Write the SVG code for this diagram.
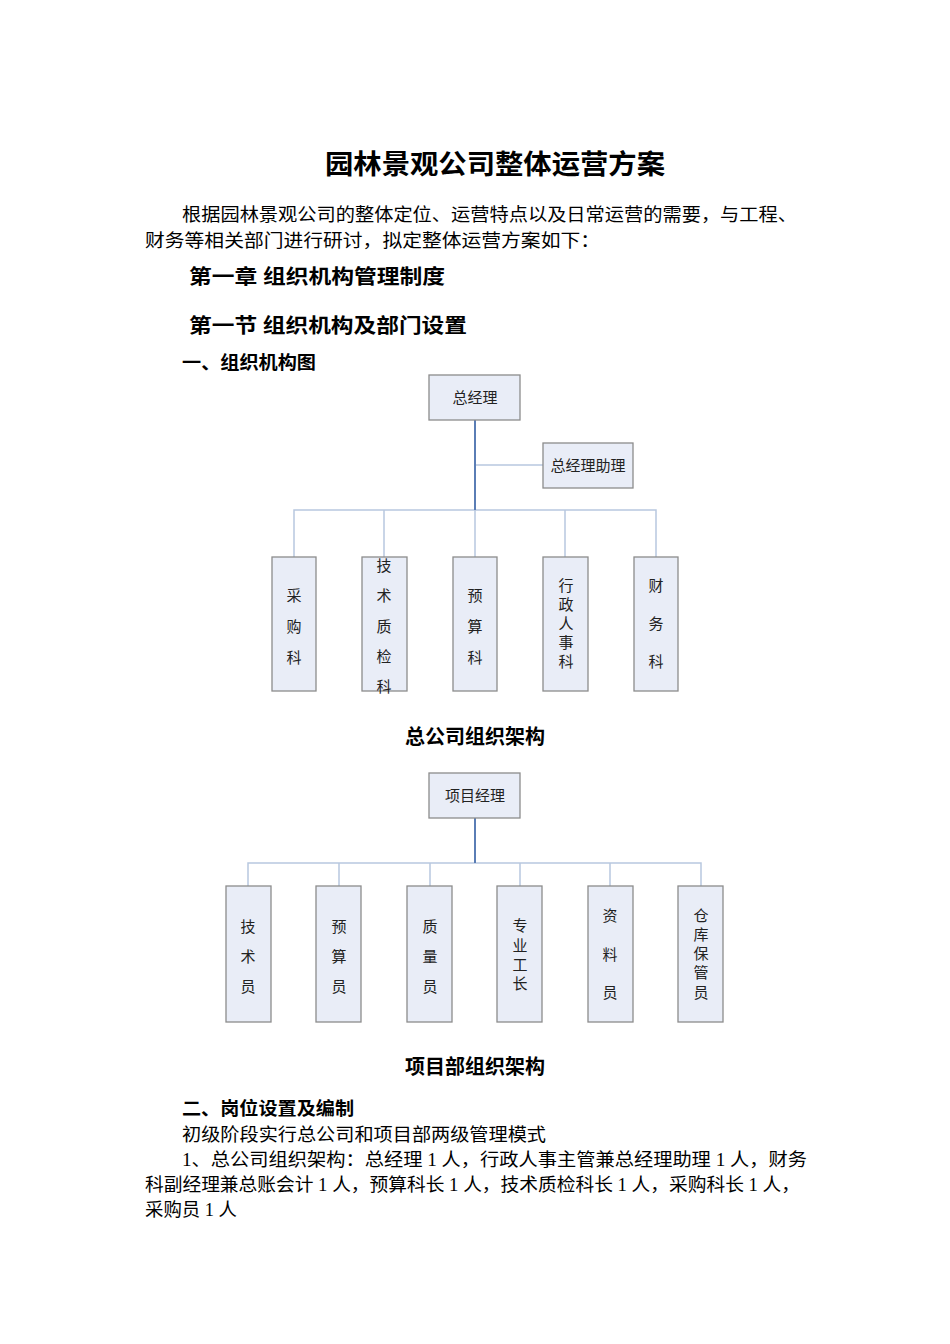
<svg xmlns="http://www.w3.org/2000/svg" width="950" height="1344" viewBox="0 0 950 1344">
<style>
.t{font-family:"Liberation Serif","Noto Sans CJK SC",serif;fill:#000}
.b{font-weight:bold}
.n{fill:#e9edf7;stroke:#8c8c8c;stroke-width:1.3}
.nt{font-family:"Noto Sans CJK SC",sans-serif;font-size:15px;fill:#222;text-anchor:middle}
.thick{stroke:#5a7db5;stroke-width:2;fill:none}
.thin{stroke:#b8c8df;stroke-width:1.5;fill:none}
</style>
<rect width="950" height="1344" fill="#fff"/>
<text class="t b" x="325" y="174" font-size="27" textLength="340" lengthAdjust="spacingAndGlyphs">园林景观公司整体运营方案</text>
<text class="t" x="182" y="221" font-size="18" textLength="615" lengthAdjust="spacingAndGlyphs">根据园林景观公司的整体定位、运营特点以及日常运营的需要，与工程、</text>
<text class="t" x="145" y="247" font-size="18" textLength="455" lengthAdjust="spacingAndGlyphs">财务等相关部门进行研讨，拟定整体运营方案如下：</text>
<text class="t b" x="189" y="284" font-size="20" textLength="256" lengthAdjust="spacingAndGlyphs">第一章  组织机构管理制度</text>
<text class="t b" x="189" y="333" font-size="20" textLength="278" lengthAdjust="spacingAndGlyphs">第一节  组织机构及部门设置</text>
<text class="t b" x="182" y="369" font-size="18" textLength="134" lengthAdjust="spacingAndGlyphs">一、组织机构图</text>
<g id="connectors">
<path class="thin" d="M475 465H543M294 557V510H656V557M384 510V557M475 510V557M565 510V557"/>
<path class="thick" d="M475 420V510"/>
<path class="thin" d="M248 886V863H701V886M339 863V886M430 863V886M520 863V886M610 863V886"/>
<path class="thick" d="M475 818V863"/>
</g>
<g id="gm"><rect class="n" x="429" y="375" width="91" height="45"/><text class="nt" x="475" y="403">总经理</text></g>
<g id="asst"><rect class="n" x="543" y="443" width="90" height="45"/><text class="nt" x="588" y="471">总经理助理</text></g>
<g id="cg"><rect class="n" x="272" y="557" width="44" height="134"/><text class="nt" x="294" y="601">采</text><text class="nt" x="294" y="632">购</text><text class="nt" x="294" y="663">科</text></g>
<g id="js"><rect class="n" x="362" y="557" width="45" height="134"/><text class="nt" x="384" y="571">技</text><text class="nt" x="384" y="601">术</text><text class="nt" x="384" y="632">质</text><text class="nt" x="384" y="662">检</text><text class="nt" x="384" y="692">科</text></g>
<g id="ys"><rect class="n" x="453" y="557" width="44" height="134"/><text class="nt" x="475" y="601">预</text><text class="nt" x="475" y="632">算</text><text class="nt" x="475" y="663">科</text></g>
<g id="xz"><rect class="n" x="543" y="557" width="45" height="134"/><text class="nt" x="566" y="591">行</text><text class="nt" x="566" y="610">政</text><text class="nt" x="566" y="629">人</text><text class="nt" x="566" y="648">事</text><text class="nt" x="566" y="667">科</text></g>
<g id="cw"><rect class="n" x="634" y="557" width="44" height="134"/><text class="nt" x="656" y="591">财</text><text class="nt" x="656" y="629">务</text><text class="nt" x="656" y="667">科</text></g>
<text class="t b" x="475" y="744" font-size="20" text-anchor="middle">总公司组织架构</text>
<g id="pm"><rect class="n" x="429" y="773" width="91" height="45"/><text class="nt" x="475" y="801">项目经理</text></g>
<g id="p1"><rect class="n" x="226" y="886" width="45" height="136"/><text class="nt" x="248" y="932">技</text><text class="nt" x="248" y="962">术</text><text class="nt" x="248" y="992">员</text></g>
<g id="p2"><rect class="n" x="316" y="886" width="45" height="136"/><text class="nt" x="339" y="932">预</text><text class="nt" x="339" y="962">算</text><text class="nt" x="339" y="992">员</text></g>
<g id="p3"><rect class="n" x="407" y="886" width="45" height="136"/><text class="nt" x="430" y="932">质</text><text class="nt" x="430" y="962">量</text><text class="nt" x="430" y="992">员</text></g>
<g id="p4"><rect class="n" x="497" y="886" width="45" height="136"/><text class="nt" x="520" y="931">专</text><text class="nt" x="520" y="951">业</text><text class="nt" x="520" y="970">工</text><text class="nt" x="520" y="989">长</text></g>
<g id="p5"><rect class="n" x="588" y="886" width="45" height="136"/><text class="nt" x="610" y="921">资</text><text class="nt" x="610" y="960">料</text><text class="nt" x="610" y="998">员</text></g>
<g id="p6"><rect class="n" x="678" y="886" width="45" height="136"/><text class="nt" x="701" y="921">仓</text><text class="nt" x="701" y="940">库</text><text class="nt" x="701" y="959">保</text><text class="nt" x="701" y="978">管</text><text class="nt" x="701" y="998">员</text></g>
<text class="t b" x="475" y="1074" font-size="20" text-anchor="middle">项目部组织架构</text>
<text class="t b" x="182" y="1115" font-size="18" textLength="172" lengthAdjust="spacingAndGlyphs">二、岗位设置及编制</text>
<text class="t" x="182" y="1141" font-size="18" textLength="364" lengthAdjust="spacingAndGlyphs">初级阶段实行总公司和项目部两级管理模式</text>
<text class="t" x="182" y="1166" font-size="18" textLength="625" lengthAdjust="spacingAndGlyphs">1、总公司组织架构：总经理 1 人，行政人事主管兼总经理助理 1 人，财务</text>
<text class="t" x="145" y="1191" font-size="18" textLength="655" lengthAdjust="spacingAndGlyphs">科副经理兼总账会计 1 人，预算科长 1 人，技术质检科长 1 人，采购科长 1 人，</text>
<text class="t" x="145" y="1216" font-size="18" textLength="92" lengthAdjust="spacingAndGlyphs">采购员 1 人</text>
</svg>
